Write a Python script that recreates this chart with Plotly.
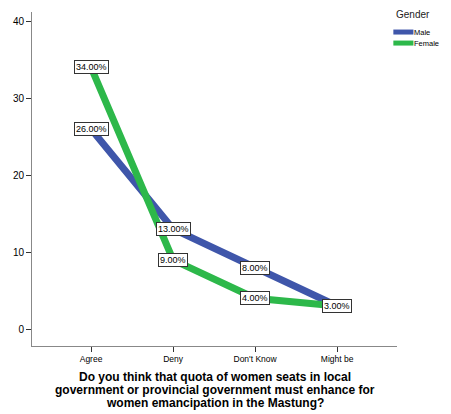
import plotly.graph_objects as go

categories = ["Agree", "Deny", "Don't Know", "Might be"]
male = [26, 13, 8, 3]
female = [34, 9, 4, 3]
y_ticks = [0, 10, 20, 30, 40]
series_names = ["Male", "Female"]
colors = ["#3F56AA", "#2DB84A"]
title_lines = ["Do you think that quota of women seats in local",
               "government or provincial government must enhance for",
               "women emancipation in the Mastung?"]

fig = go.Figure()
for name, vals, col in zip(series_names, [male, female], colors):
    fig.add_trace(go.Scatter(x=categories, y=vals, mode="lines", name=name,
                             line=dict(color=col, width=7), showlegend=False))

for series in (male, female):
    for c, v in zip(categories, series):
        fig.add_annotation(x=c, y=v, text=f"{v:.2f}%", showarrow=False,
                           bgcolor="white", bordercolor="#333333", borderwidth=1,
                           borderpad=1, font=dict(size=9, color="black", family="Arial"))

# manual legend
fig.add_annotation(xref="paper", yref="paper", x=1.045, y=0.994, text="Gender",
                   showarrow=False, font=dict(size=10, color="#222222"),
                   xanchor="center", yanchor="middle")
for i, (name, col) in enumerate(zip(series_names, colors)):
    yy = 0.940 - i * 0.033
    fig.add_shape(type="line", xref="paper", yref="paper", x0=0.99, x1=1.045,
                  y0=yy, y1=yy, line=dict(color=col, width=5))
    fig.add_annotation(xref="paper", yref="paper", x=1.045, y=yy, text=name,
                       showarrow=False, font=dict(size=7.5, color="black"),
                       xanchor="left", yanchor="middle", borderpad=0)

# axis title (three tight lines)
for i, line in enumerate(title_lines):
    fig.add_annotation(xref="paper", yref="paper", x=0.5, y=-0.0928 - i * 0.0389,
                       text=f"<b>{line}</b>", showarrow=False,
                       font=dict(size=12, color="black", family="Arial"),
                       xanchor="center", yanchor="middle", borderpad=0)

fig.update_layout(
    width=443, height=406,
    margin=dict(l=24, r=54, t=4, b=68),
    plot_bgcolor="white", paper_bgcolor="white",
    font=dict(family="Arial", size=9, color="black"),
    showlegend=False,
    xaxis=dict(range=[-0.72, 3.73], showline=True, linecolor="#888888", linewidth=1,
               ticks="outside", ticklen=5, tickcolor="#333333", showgrid=False,
               zeroline=False, tickfont=dict(size=8.5), automargin=False),
    yaxis=dict(range=[-2.2, 41.2], tickvals=y_ticks, showline=True, linecolor="#888888",
               linewidth=1, ticks="outside", ticklen=5, tickcolor="#333333",
               showgrid=False, zeroline=False, tickfont=dict(size=10), automargin=False),
)

fig.write_html("out.html")
